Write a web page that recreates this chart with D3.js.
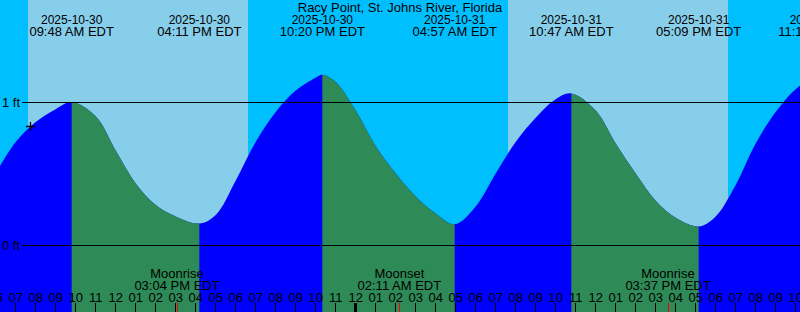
<!DOCTYPE html>
<html>
<head>
<meta charset="utf-8">
<script src="https://cdn.jsdelivr.net/npm/d3@7"></script>
<style>
  body { margin: 0; background: #fff; }
  svg text { font-family: "Liberation Sans", Arial, sans-serif; font-size: 13px; fill: #000; }
  svg text.small { font-size: 12px; }
</style>
</head>
<body>
<svg width="800" height="312"></svg>
<script>
// chart data
const title = "Racy Point, St. Johns River, Florida";
const viewStart = "2025-10-30 06:13";
const viewEnd = "2025-10-31 22:13";

// hourly water level (ft), starting at 06:00 on 10-30
const hourStart = "2025-10-30 06:00";
const hourlyFt = [0.50, 0.72, 0.86, 0.95, 0.99, 0.90, 0.66, 0.43, 0.28, 0.20,
                  0.16, 0.21, 0.45, 0.72, 0.93, 1.08, 1.17, 1.14, 0.94, 0.69,
                  0.50, 0.34, 0.22, 0.15, 0.27, 0.50, 0.72, 0.89, 1.02, 1.05,
                  0.94, 0.71, 0.50, 0.31, 0.19, 0.14, 0.20, 0.42, 0.71, 0.93,
                  1.09, 1.19];

// high / low tides
const tideTimes = ["2025-10-30 09:48", "2025-10-30 16:11", "2025-10-30 22:20",
                   "2025-10-31 04:57", "2025-10-31 10:47", "2025-10-31 17:09",
                   "2025-10-31 23:14"];
const tideFt = [1.00, 0.15, 1.19, 0.145, 1.06, 0.13, 1.20];
const tideType = ["H", "L", "H", "L", "H", "L", "H"];

// daylight
const sunrise = ["2025-10-30 07:37", "2025-10-31 07:37"];
const sunset = ["2025-10-30 18:37", "2025-10-31 18:37"];

// moon
const moonLabels = ["Moonrise", "Moonset", "Moonrise"];
const moonTimes = ["2025-10-30 15:04", "2025-10-31 02:11", "2025-10-31 15:37"];

// current position marker
const nowTime = "2025-10-30 07:43";
const nowFt = 0.83;

const yTicks = [0, 1];

// setup
const svg = d3.select("svg"),
    width = +svg.attr("width"),
    height = +svg.attr("height");

const parse = d3.utcParse("%Y-%m-%d %H:%M");
const fmtDate = d3.utcFormat("%Y-%m-%d");
const fmtTime = d3.utcFormat("%I:%M %p EDT");
const fmtHour = d3.utcFormat("%I");

const x = d3.scaleUtc()
    .domain([parse(viewStart), parse(viewEnd)])
    .range([0, width]);
const y = d3.scaleLinear()
    .domain([0, 1])
    .range([245, 102]);

// merge hourly readings with the tide extremes
// (hourly points too close to an extreme are skipped so the curve stays smooth)
const t0 = parse(hourStart);
const extremes = tideTimes.map((s, i) => ({ t: parse(s), ft: tideFt[i] }));
let points = hourlyFt
    .map((v, i) => ({ t: d3.utcHour.offset(t0, i), ft: v }))
    .filter((p) => extremes.every((e) => Math.abs(e.t - p.t) > 15 * 60000));
points = points.concat(extremes).sort((a, b) => a.t - b.t);

// background: night, then daylight bands
svg.append("rect")
    .attr("width", width).attr("height", height)
    .attr("fill", "#00bfff");
svg.append("g")
    .selectAll("rect")
    .data(sunrise)
    .join("rect")
    .attr("x", (d) => x(parse(d)))
    .attr("width", (d, i) => x(parse(sunset[i])) - x(parse(d)))
    .attr("y", 0).attr("height", height)
    .attr("fill", "#87ceeb");

// tide area, blue rising and green falling
const area = d3.area()
    .x((d) => x(d.t))
    .y0(height)
    .y1((d) => y(d.ft))
    .curve(d3.curveCatmullRom.alpha(0.5));

const falling = [];
tideType.forEach((k, i) => {
    if (k === "H") {
        const end = i + 1 < tideTimes.length ? x(parse(tideTimes[i + 1])) : width + 50;
        falling.push([x(parse(tideTimes[i])), end]);
    }
});

svg.append("clipPath").attr("id", "fallClip")
    .selectAll("rect")
    .data(falling)
    .join("rect")
    .attr("x", (d) => d[0]).attr("width", (d) => d[1] - d[0])
    .attr("y", 0).attr("height", height);

svg.append("path")
    .datum(points)
    .attr("d", area)
    .attr("fill", "#0000ff");
svg.append("path")
    .datum(points)
    .attr("d", area)
    .attr("fill", "#2e8b57")
    .attr("clip-path", "url(#fallClip)");

// level lines
const yAxis = svg.append("g");
yAxis.selectAll("line")
    .data(yTicks)
    .join("line")
    .attr("x1", 22).attr("x2", width)
    .attr("y1", (d) => Math.round(y(d)) + 0.5)
    .attr("y2", (d) => Math.round(y(d)) + 0.5)
    .attr("stroke", "#000");
yAxis.selectAll("text")
    .data(yTicks)
    .join("text")
    .attr("x", 20)
    .attr("y", (d) => y(d))
    .attr("dy", "0.35em")
    .attr("text-anchor", "end")
    .text((d) => d + " ft");

// title and tide labels
svg.append("text")
    .attr("x", width / 2).attr("y", 12)
    .attr("text-anchor", "middle")
    .text(title);

const tideLbl = svg.append("g")
    .selectAll("g")
    .data(tideTimes)
    .join("g")
    .attr("transform", (d) => `translate(${x(parse(d))},0)`);
tideLbl.append("text").attr("class", "small").attr("y", 24).attr("text-anchor", "middle")
    .text((d) => fmtDate(parse(d)));
tideLbl.append("text").attr("y", 36).attr("text-anchor", "middle")
    .text((d) => fmtTime(parse(d)));

// moon labels
const moonLbl = svg.append("g")
    .selectAll("g")
    .data(moonTimes)
    .join("g")
    .attr("transform", (d) => `translate(${x(parse(d))},0)`);
moonLbl.append("text").attr("y", 278).attr("text-anchor", "middle")
    .text((d, i) => moonLabels[i]);
moonLbl.append("text").attr("y", 290).attr("text-anchor", "middle")
    .text((d) => fmtTime(parse(d)));

// hour ticks along the bottom
const hours = d3.utcHour.range(
    d3.utcHour.offset(parse(viewStart), -1),
    d3.utcHour.offset(parse(viewEnd), 1));
const tickG = svg.append("g");
tickG.selectAll("text")
    .data(hours)
    .join("text")
    .attr("x", (d) => x(d))
    .attr("y", 302)
    .attr("text-anchor", "middle")
    .text((d) => fmtHour(d));
tickG.selectAll("line")
    .data(hours)
    .join("line")
    .attr("x1", (d) => Math.floor(x(d)) + 0.5)
    .attr("x2", (d) => Math.floor(x(d)) + 0.5)
    .attr("y1", 303).attr("y2", height)
    .attr("stroke", "#000")
    .attr("stroke-width", (d) => d.getUTCHours() === 0 ? 3 : 1);

// moon event ticks in red
svg.append("g")
    .selectAll("line")
    .data(moonTimes)
    .join("line")
    .attr("x1", (d) => Math.floor(x(parse(d))) + 0.5)
    .attr("x2", (d) => Math.floor(x(parse(d))) + 0.5)
    .attr("y1", 303).attr("y2", height)
    .attr("stroke", "#ff0000");

// current time marker
const nx = Math.floor(x(parse(nowTime))) + 0.5,
    ny = Math.floor(y(nowFt)) + 0.5;
svg.append("path")
    .attr("d", `M${nx - 4.5},${ny}H${nx + 4.5}M${nx},${ny - 4.5}V${ny + 4.5}`)
    .attr("stroke", "#000")
    .attr("stroke-width", 1.3);
</script>
</body>
</html>
